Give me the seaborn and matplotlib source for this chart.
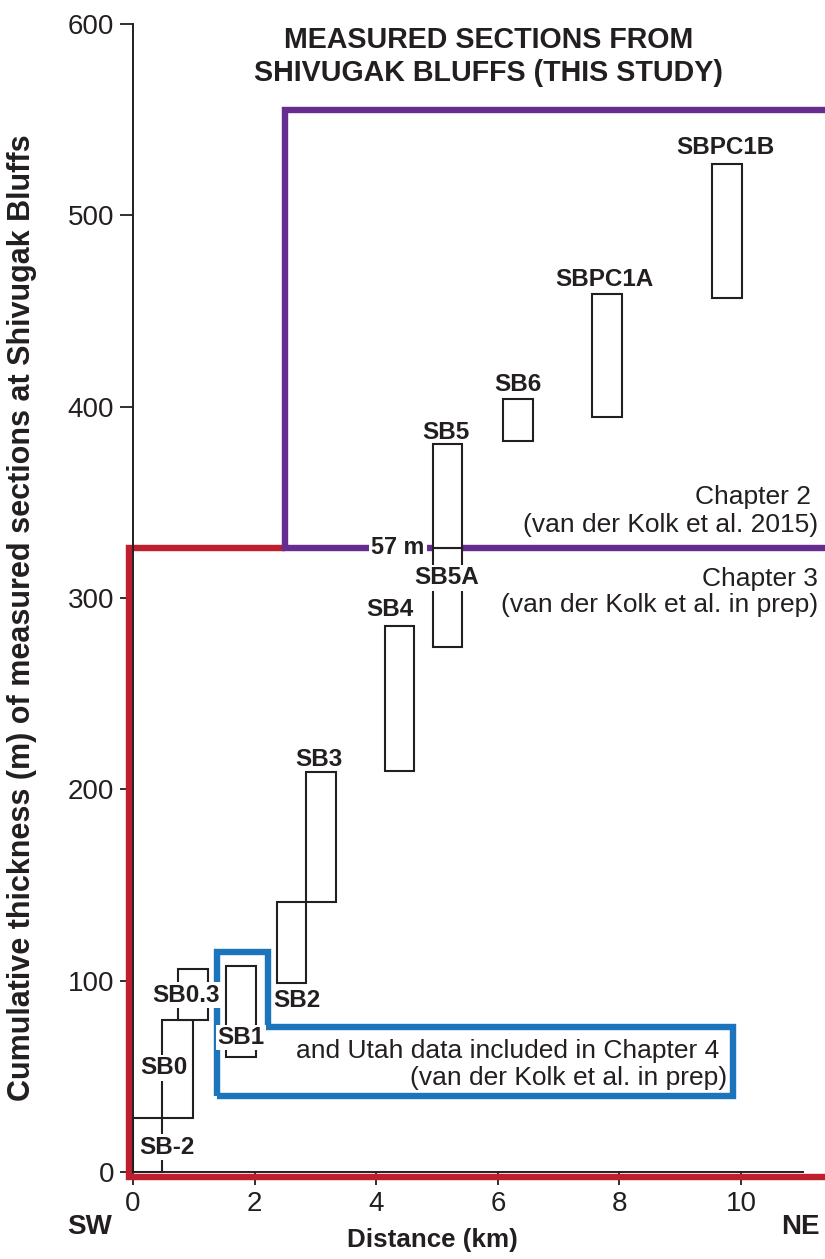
import matplotlib
matplotlib.use("Agg")
import matplotlib.pyplot as plt
import seaborn as sns
import pandas as pd
import numpy as np

sns.set_style("ticks")
plt.rcParams["font.family"] = ["Liberation Sans", "DejaVu Sans"]
plt.rcParams["font.size"] = 18

INK = "#231F20"
RED = "#BE1E2D"
PURPLE = "#662D91"
BLUE = "#1C75BC"

# measured sections: extent along the bluffs (km) and stratigraphic interval (m)
sections = ["SB-2", "SB0", "SB0.3", "SB1", "SB2", "SB3", "SB4", "SB5A", "SB5", "SB6", "SBPC1A", "SBPC1B"]
x_left = [0.0, 0.48, 0.74, 1.53, 2.37, 2.85, 4.14, 4.93, 4.93, 6.09, 7.55, 9.52]
x_right = [0.48, 0.98, 1.23, 2.02, 2.85, 3.34, 4.62, 5.41, 5.41, 6.58, 8.04, 10.02]
base_m = [0, 28.2, 79.5, 60, 98.8, 141, 209.6, 274.4, 326.2, 382, 394.7, 457]
top_m = [28.2, 79.5, 106, 107.7, 141, 209, 285.4, 326.2, 380.5, 404, 459, 527]
label_x = [0.56, 0.51, 0.88, 1.78, 2.70, 3.05, 4.23, 5.15, 5.15, 6.33, 7.75, 9.74]
label_y = [13, 54.4, 92.5, 70.3, 89.4, 215.5, 293.8, 310.5, 386.8, 411.4, 466.3, 535.3]
label_box = [True, True, True, True, False, False, False, True, False, False, False, False]

# chapter boundaries
ch3_x = [11.5, -0.07, -0.07, 2.5]
ch3_y = [-2.6, -2.6, 326.2, 326.2]
ch2_x = [11.5, 2.5, 2.5, 11.5]
ch2_y = [326.2, 326.2, 555, 555]
ch4_x = [1.38, 1.38, 2.22, 2.22, 9.87, 9.87, 1.38]
ch4_y = [39.7, 115, 115, 75.8, 75.8, 39.7, 39.7]

df = pd.DataFrame({"section": sections, "left": x_left, "right": x_right,
                   "base": base_m, "top": top_m})
df["width"] = df["right"] - df["left"]
df["thick"] = df["top"] - df["base"]

fig = plt.figure(figsize=(8.25, 12.59), dpi=100)
ax = fig.add_axes([120 / 825, 74 / 1259, 705 / 825, 1175 / 1259])

for xs, ys, c in [(ch3_x, ch3_y, RED), (ch2_x, ch2_y, PURPLE), (ch4_x, ch4_y, BLUE)]:
    sns.lineplot(x=xs, y=ys, sort=False, estimator=None, color=c, lw=4.6,
                 solid_capstyle="butt", solid_joinstyle="miter", clip_on=False, zorder=2, ax=ax)

ax.bar(df["left"], df["thick"], width=df["width"], bottom=df["base"], align="edge",
       facecolor="white", edgecolor=INK, linewidth=1.5, zorder=3)

for name, lx, ly, boxed in zip(sections, label_x, label_y, label_box):
    kw = dict(ha="center", va="center", fontsize=17.5, fontweight="bold", color=INK, zorder=5)
    if boxed:
        kw["bbox"] = dict(boxstyle="square,pad=0.06", fc="white", ec="none")
    ax.text(lx, ly, name, **kw)

ax.text(4.36, 326.2, "57 m", ha="center", va="center", fontsize=16.8, fontweight="bold", color=INK,
        zorder=5, bbox=dict(boxstyle="square,pad=0.1", fc="white", ec="none"))

ax.text(5.84, 583, "MEASURED SECTIONS FROM\nSHIVUGAK BLUFFS (THIS STUDY)", ha="center", va="center",
        fontsize=20.6, fontweight="bold", color=INK, linespacing=1.2)
ax.text(11.27, 345.5, "Chapter 2 \n(van der Kolk et al. 2015)", ha="right", va="center",
        multialignment="right", fontsize=19, color=INK, linespacing=1.2, clip_on=False)
ax.text(11.27, 303.2, "Chapter 3\n(van der Kolk et al. in prep)", ha="right", va="center",
        multialignment="right", fontsize=19, color=INK, linespacing=1.15, clip_on=False)
ax.text(9.77, 56, "and Utah data included in Chapter 4 \n(van der Kolk et al. in prep)", ha="right",
        va="center", multialignment="right", fontsize=19, color=INK, linespacing=1.15)

ax.text(-0.71, -28.8, "SW", ha="center", va="center", fontsize=20, fontweight="bold", color=INK, clip_on=False)
ax.text(10.97, -28.8, "NE", ha="center", va="center", fontsize=20, fontweight="bold", color=INK, clip_on=False)

ax.set_xlim(-0.214, 11.38)
ax.set_ylim(-6.8, 607.4)
ax.set_xticks(np.arange(0, 11, 2))
ax.set_yticks(np.arange(0, 601, 100))
ax.tick_params(length=9.5, width=1.3, labelsize=20, pad=4, color=INK, labelcolor=INK)

for s in ["top", "right"]:
    ax.spines[s].set_visible(False)
ax.spines["left"].set_position(("data", 0))
ax.spines["bottom"].set_position(("data", 0))
ax.spines["left"].set_bounds(0, 600)
ax.spines["bottom"].set_bounds(0, 11.02)
for s in ["left", "bottom"]:
    ax.spines[s].set_linewidth(1.4)
    ax.spines[s].set_color(INK)

fig.text(432 / 825, 1 - 1240 / 1259, "Distance (km)", ha="center", va="center",
         fontsize=18.7, fontweight="bold", color=INK)
fig.text(22 / 825, 1 - 617.5 / 1259, "Cumulative thickness (m) of measured sections at Shivugak Bluffs",
         rotation=90, ha="center", va="center", fontsize=22, fontweight="bold", color=INK)

fig.savefig("out.png", dpi=100, facecolor="white")
